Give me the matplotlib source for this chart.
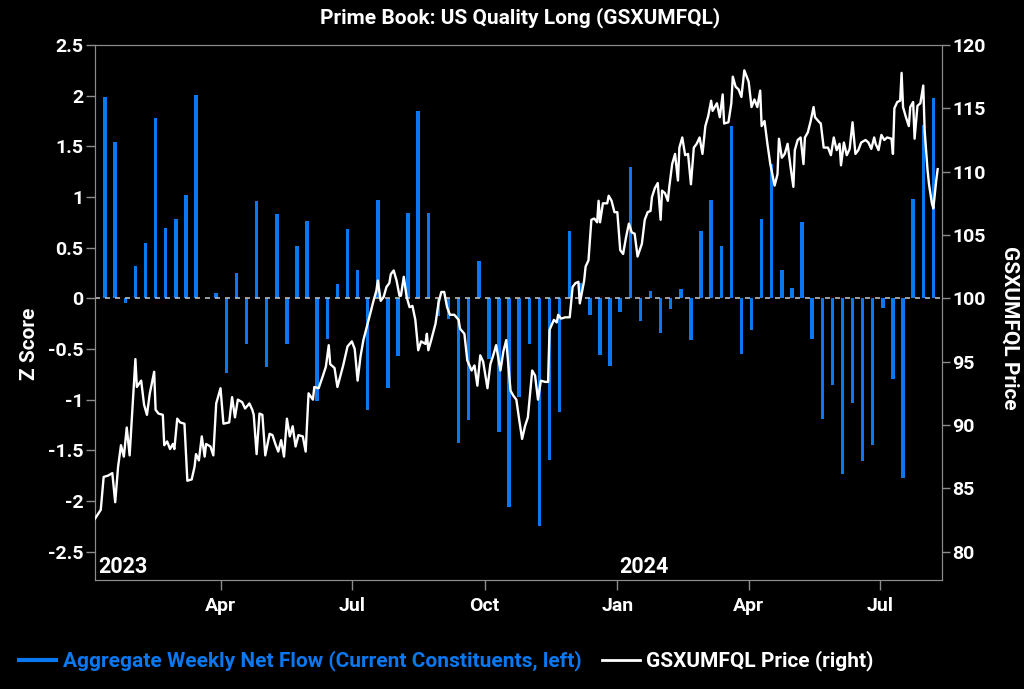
import numpy as np
import pandas as pd
import matplotlib
matplotlib.use("Agg")
import matplotlib.pyplot as plt
import matplotlib.dates as mdates
import matplotlib.transforms as mtransforms
from matplotlib.lines import Line2D

# weekly aggregate net flow z-score (left axis)
bar_start = "2023-01-11"
bar_vals = [1.99, 1.54, -0.05, 0.32, 0.55, 1.78, 0.69, 0.78, 1.02, 2.01,
            0.0, 0.05, -0.74, 0.25, -0.45, 0.96, -0.68, 0.83, -0.45, 0.52,
            0.76, -1.01, -0.40, 0.14, 0.68, 0.28, -1.10, 0.97, -0.89, -0.57,
            0.84, 1.85, 0.84, -0.17, -0.20, -1.43, -1.20, 0.37, -0.60, -1.32,
            -2.06, -0.97, -0.45, -2.25, -1.60, -1.12, 0.66, 0.15, -0.16, -0.56,
            -0.67, -0.14, 1.30, -0.22, 0.07, -0.34, -0.11, 0.09, -0.41, 0.66,
            0.97, 0.52, 1.70, -0.55, -0.31, 0.78, 1.33, 0.28, 0.10, 0.75,
            -0.40, -1.19, -0.86, -1.73, -1.03, -1.61, -1.45, -0.10, -0.80, -1.77,
            0.98, 1.71, 1.98]

# GSXUMFQL price (right axis), days counted from 2023-01-01
price_day = [3, 7, 9, 12, 15, 17, 19, 21, 23, 25, 27, 29, 31, 32, 35, 37, 39, 41, 44, 45,
             47, 50, 51, 53, 55, 57, 58, 60, 62, 65, 67, 70, 72, 73, 75, 77, 79, 80, 83, 85, 87,
             90, 92, 96, 98, 100, 102, 105, 107, 110, 112, 113, 115, 117, 119, 121, 124, 126, 128, 130, 132,
             134, 136, 138, 140, 142, 144, 147, 149, 151, 154, 155, 158, 161, 163, 165, 166, 169, 171,
             175, 178, 181, 183, 185, 187, 189, 192, 194, 196, 198, 199, 201, 203, 205, 207, 208, 210, 212, 214,
             215, 217, 219, 221, 223, 225, 227, 229, 232, 233, 234, 236, 239, 241, 243, 245, 247, 249, 252, 255, 256,
             259, 261, 264, 266, 268, 270, 272, 275, 277, 279, 281, 284, 286, 288, 291, 293, 295, 297, 299, 301,
             303, 306, 308, 310, 312, 315, 317, 318, 321, 323, 324, 326, 329, 332, 334, 336, 338, 339, 342, 343,
             345, 347, 349, 351, 352, 353, 355, 358, 359, 361, 363, 365, 367, 369, 371, 373, 375, 377, 379, 382,
             384, 386, 388, 389, 391, 393, 395, 396, 398, 400, 401, 403, 405, 407, 408, 410, 412, 414, 416, 418,
             420, 422, 424, 426, 428,
             430, 431, 434, 436, 438, 439, 442, 444, 445, 447, 449, 451, 453, 454, 456, 458, 460, 462, 464, 465,
             467, 469, 471, 474, 476, 477, 479, 481, 483, 485, 487, 488, 490, 492, 494, 495, 497, 499, 501, 502,
             505, 506, 508, 511, 513,
             515, 517, 519, 520, 522, 524, 526, 528, 530, 532, 534, 537, 539, 541, 543, 544, 546, 548, 550, 552,
             555, 556, 557, 559, 561, 562, 563, 565, 567, 568, 570, 571, 573, 575, 577, 578, 580, 581, 583, 584,
             586, 587]
price_vals = [82.6, 83.3, 85.9, 86.0, 86.2, 83.9, 86.7, 88.4, 87.5, 89.8, 87.6, 91.4, 95.2, 93.0, 93.5, 91.6, 90.8, 92.5, 94.2, 91.2,
              90.9, 90.8, 88.4, 88.7, 88.1, 88.5, 88.1, 90.5, 90.2, 90.1, 85.6, 85.7, 86.7, 87.7, 87.2, 89.1, 87.5, 88.5, 88.3, 87.6, 91.7,
              92.9, 90.1, 90.2, 92.2, 90.6, 92.0, 91.8, 91.3, 91.7, 91.2, 90.8, 87.7, 90.9, 90.8, 87.6, 89.3, 89.2, 88.5, 87.9, 88.8,
              87.5, 90.5, 89.1, 89.9, 88.3, 89.2, 89.1, 87.9, 92.5, 92.0, 93.0, 92.9, 93.9, 94.6, 96.3, 94.8, 94.5, 93.0,
              94.7, 96.2, 96.6, 96.0, 93.5, 95.4, 96.7, 98.0, 98.9, 99.8, 100.6, 101.4, 99.8, 100.1, 100.9, 101.2, 101.9, 102.2, 101.4, 100.2,
              100.2, 101.7, 100.1, 99.3, 99.4, 98.3, 95.9, 96.6, 96.4, 97.2, 95.9, 96.7, 98.0, 99.6, 100.5, 100.5, 99.3, 98.7, 98.7, 98.3, 97.6,
              97.2, 95.1, 94.3, 94.7, 93.1, 95.5, 95.0, 92.9, 94.8, 95.5, 96.3, 94.3, 95.8, 96.7, 92.7, 92.3, 92.0, 90.4, 88.9, 89.9,
              90.6, 94.3, 93.9, 92.0, 93.5, 93.4, 93.4, 97.5, 98.3, 98.1, 98.7, 98.4, 98.5, 98.5, 100.9, 101.2, 101.3, 99.6, 101.4, 102.5,
              103.0, 106.2, 106.3, 106.0, 107.7, 106.0, 107.5, 107.5, 108.1, 107.7, 106.8, 106.8, 103.8, 103.5, 104.8, 105.9, 105.2, 105.1, 103.3, 104.3,
              106.2, 106.8, 106.9, 108.0, 108.7, 109.1, 106.2, 108.5, 108.3, 107.7, 108.8, 110.6, 111.4, 109.3, 111.9, 112.7, 111.3, 111.4, 109.0, 111.9,
              112.2, 112.7, 111.4, 113.6, 114.4,
              115.6, 114.8, 115.4, 114.3, 116.1, 113.8, 113.9, 115.4, 117.5, 116.7, 116.5, 115.9, 118.0, 117.7, 117.1, 115.1, 115.7, 115.1, 116.4, 113.6,
              114.0, 112.2, 110.6, 108.9, 109.8, 112.6, 111.1, 111.4, 112.2, 110.4, 108.8, 111.7, 112.5, 112.7, 110.6, 112.7, 113.1, 114.0, 115.1, 114.3,
              113.9, 113.8, 111.9, 111.9, 111.3,
              112.7, 111.7, 112.2, 110.5, 112.3, 111.3, 111.8, 113.9, 111.4, 111.7, 112.3, 112.5, 112.3, 111.8, 112.7, 112.2, 111.7, 112.9, 112.5, 112.7,
              112.6, 111.4, 115.0, 115.5, 115.6, 117.8, 115.1, 114.3, 113.6, 115.1, 115.5, 112.6, 115.2, 115.4, 116.8, 113.2, 110.1, 109.0, 107.5, 107.1,
              109.3, 110.2]

BLUE = "#0A78F0"
GRID = "#8c8c8c"

bar_dates = pd.date_range(bar_start, periods=len(bar_vals), freq="7D")
price_dates = pd.Timestamp("2023-01-01") + pd.to_timedelta(price_day, unit="D")

plt.rcParams["font.family"] = ["Roboto", "DejaVu Sans"]
plt.rcParams["font.weight"] = "bold"

fig = plt.figure(figsize=(10.24, 6.89), dpi=100, facecolor="black")
ax = fig.add_axes([95 / 1024, 1 - 580 / 689, 847 / 1024, 535 / 689])
ax.set_facecolor("black")

ax.bar(bar_dates, bar_vals, width=2.4, color=BLUE, zorder=2)
ax.axhline(0, color="#bbbbbb", lw=1.2, ls=(0, (3, 3)), zorder=3)
ax.set_ylim(-2.78, 2.5)
yt = np.arange(-2.5, 2.51, 0.5)
ax.set_yticks(yt)
ax.set_yticklabels([f"{v:g}" for v in yt])
ax.set_xlim(pd.Timestamp("2023-01-04"), pd.Timestamp("2024-08-13"))
ax.xaxis.set_major_locator(mdates.MonthLocator(bymonth=[1, 4, 7, 10]))
ax.xaxis.set_major_formatter(mdates.DateFormatter("%b"))

ax2 = ax.twinx()
ax2.plot(price_dates, price_vals, color="white", lw=1.7, zorder=4)
ax2.set_ylim(77.76, 120)
ax2.set_yticks(range(80, 121, 5))

for a in (ax, ax2):
    for s in a.spines.values():
        s.set_color(GRID)
    a.tick_params(colors=GRID, labelcolor="white", labelsize=14, width=1)
ax.tick_params(axis="x", length=7, pad=5)
ax.tick_params(axis="y", length=6.5, pad=2)
ax2.tick_params(axis="y", length=6, pad=1.5)

ax.set_ylabel("Z Score", color="white", fontsize=15, weight="bold")
ax.yaxis.set_label_coords(-56 / 847, (580 - 344) / 535)
ax2.set_ylabel("GSXUMFQL Price", color="white", fontsize=15, weight="bold",
               rotation=270, va="center")
ax2.yaxis.set_label_coords((1010 - 95) / 847, (580 - 328) / 535)

tr = mtransforms.blended_transform_factory(ax.transData, ax.transAxes)
ax.text(0.004, 0.024, "2023", transform=ax.transAxes, color="white",
        fontsize=15.5, weight="bold", ha="left", va="center", zorder=5)
ax.text(pd.Timestamp("2024-01-02"), 0.024, "2024", transform=tr, color="white",
        fontsize=15.5, weight="bold", ha="left", va="center", zorder=5)

fig.text(520 / 1024, 1 - 18 / 689, "Prime Book: US Quality Long (GSXUMFQL)",
         color="white", fontsize=15, weight="bold", ha="center", va="center")

handles = [Line2D([0], [0], color=BLUE, lw=3), Line2D([0], [0], color="white", lw=2)]
labels = ["Aggregate Weekly Net Flow (Current Constituents, left)", "GSXUMFQL Price (right)"]
fig.legend(handles, labels, loc="center", bbox_to_anchor=(446 / 1024, 1 - 661 / 689),
           ncol=2, frameon=False, fontsize=15, labelcolor=[BLUE, "white"],
           handlelength=1.8, columnspacing=1.0, handletextpad=0.3)

fig.savefig("out.png", dpi=100, facecolor="black")
